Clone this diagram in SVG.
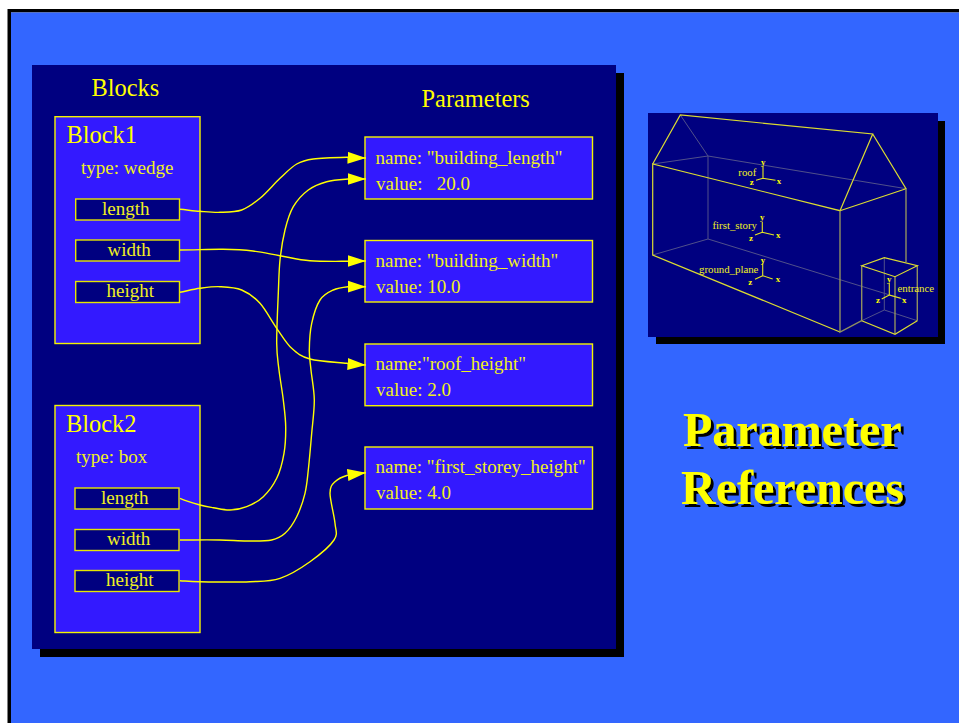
<svg xmlns="http://www.w3.org/2000/svg" width="959" height="723" viewBox="0 0 959 723">
<style>
text{font-family:"Liberation Serif","Times New Roman",serif;fill:#ffff00}
.h{font-size:24.4px}
.t{font-size:19px;fill:#f0f020}
.box{fill:#3319ff;stroke:#f4f400;stroke-width:1.4}
.slot{fill:#000080;stroke:#e6e600;stroke-width:1.4}
.con{fill:none;stroke:#ffff00;stroke-width:1.4;marker-end:url(#arr)}
.title{font-size:48px;font-weight:bold;filter:url(#ts)}
.lab{font-size:10.8px;fill:#f0f020}
.ax{font-size:9px;font-weight:bold;text-anchor:middle}
.e{fill:none;stroke:#dcdc30;stroke-width:1.2}
.g{fill:none;stroke:#8f8f60;stroke-width:1.4}
.d{fill:none;stroke:#50508a;stroke-width:1}
.a{fill:none;stroke:#e6e620;stroke-width:1.1}
</style>
<defs>
<marker id="arr" markerUnits="userSpaceOnUse" markerWidth="20" markerHeight="14" refX="18.500" refY="7" orient="auto">
<path d="M0 1L18.500 7L0 13Z" fill="#ffff00"/>
</marker>
<filter id="ts" x="-5%" y="-10%" width="110%" height="125%">
<feDropShadow dx="3" dy="3" stdDeviation="0.300" flood-color="#000000"/>
</filter>
</defs>
<rect width="959" height="723" fill="#ffffff"/>
<path d="M7.500 723V9H959V12.500H11V723Z" fill="#000"/>
<rect x="11" y="12.500" width="948" height="710.500" fill="#3366ff"/>
<rect x="40" y="73" width="584" height="584" fill="#000"/>
<rect x="32" y="65" width="584" height="584" fill="#000080"/>
<text class="h" x="91.500" y="96">Blocks</text>
<text class="h" x="421.500" y="107">Parameters</text>

<g id="block1">
<rect class="box" x="55" y="116.700" width="145" height="226.800"/>
<text class="h" x="66.500" y="143">Block1</text>
<text class="t" x="81" y="173.500">type: wedge</text>
</g>
<g id="block1-length"><rect class="slot" x="75.700" y="199" width="103.800" height="21"/><text class="t" x="102" y="215">length</text></g>
<g id="block1-width"><rect class="slot" x="75.700" y="240" width="103.800" height="21"/><text class="t" x="107.500" y="256">width</text></g>
<g id="block1-height"><rect class="slot" x="75.700" y="281.500" width="103.800" height="21"/><text class="t" x="106.500" y="297">height</text></g>

<g id="block2">
<rect class="box" x="55" y="405.500" width="145" height="227"/>
<text class="h" x="66" y="432">Block2</text>
<text class="t" x="76" y="462.500">type: box</text>
</g>
<g id="block2-length"><rect class="slot" x="75" y="488" width="104" height="21"/><text class="t" x="101" y="504">length</text></g>
<g id="block2-width"><rect class="slot" x="75" y="529.500" width="104" height="21"/><text class="t" x="107" y="545">width</text></g>
<g id="block2-height"><rect class="slot" x="75" y="570.500" width="104" height="21"/><text class="t" x="106" y="586">height</text></g>

<g id="param-building-length">
<rect class="box" x="365" y="137" width="227.500" height="62"/>
<text class="t" x="375.500" y="163.500">name: "building_length"</text>
<text class="t" x="376" y="189.500" xml:space="preserve">value:   20.0</text>
</g>
<g id="param-building-width">
<rect class="box" x="365" y="240.500" width="227.500" height="61.500"/>
<text class="t" x="375.500" y="266.500">name: "building_width"</text>
<text class="t" x="376" y="292.500">value: 10.0</text>
</g>
<g id="param-roof-height">
<rect class="box" x="365" y="344" width="227.500" height="61.700"/>
<text class="t" x="375.500" y="369.500">name:"roof_height"</text>
<text class="t" x="376" y="396">value: 2.0</text>
</g>
<g id="param-first-storey-height">
<rect class="box" x="365" y="447" width="227.500" height="62"/>
<text class="t" x="375.500" y="473">name: "first_storey_height"</text>
<text class="t" x="376" y="499">value: 4.0</text>
</g>

<g id="connectors">
<path class="con" d="M180 209.300C186.700 209.900 193.300 210.800 200 211.300S213 212.500 220 212.300S235 212.300 241.700 210S253.600 203.600 260 198.300S273.900 184 280 178.300S291.100 167.200 296.700 164S305 160.100 313.300 159S337.900 157.500 346.700 157.300S358 157.900 366 158"/>
<path class="con" d="M180 250C194 250 210.800 249.100 223 249.300S243.500 249.900 253 251S270.500 254.100 280 255.700S298.800 259.800 310 260.700S337.700 261.300 347 261.300S358 261 366 261"/>
<path class="con" d="M180 292.300C186.700 291 193.300 289.200 200 288.300S213 286.400 220 286.700S235 287.200 241.700 290S254.200 296.900 260 303.300S271.400 320.800 276.700 328.300S286.100 343.200 291.700 348.300S300.800 356.500 310 359S337.400 362.300 346.700 363.300S358 364.600 366 365"/>
<path class="con" d="M180 498.300C186 501 194.400 503.400 200 505S208.300 506.900 213.300 507.700S224.400 510.200 230 510S241.100 508.900 246.700 506.700S258.300 501.400 263.300 496.700S273.200 485.500 276.700 478.300S282.500 461.900 284 453.300S285.800 435.600 285.700 426.700S284.400 409.500 283.300 400S280.100 379.500 279 370S276.800 356.100 276.700 343.300S277.700 307.200 278.300 293.300S278.900 270.600 280 260S282.800 238.900 285 230S289.400 213.400 293.300 206.700S302.700 194.200 308.300 190S320.100 183.500 326.700 181.700S341.400 179.500 348 179S358 179 366 179"/>
<path class="con" d="M180 540C193 540 208.900 539.800 220 540S238.100 541 246.700 541S265.300 541.300 271.700 540S280.800 537.200 285 533.300S293.400 523.400 296.700 516.700S303.100 501.100 305 493.300S307.200 480 308.300 470S310.700 445 311.700 433.300S314.400 410.600 314.300 400S311.800 378.300 311 370S309.200 357.800 309.300 350S309.900 331.600 311.700 323.300S316.400 305.600 320 300S328.600 292.200 333.300 290S342.800 287.300 348.300 286.700S358 286.700 366 286.700"/>
<path class="con" d="M180 580.700C186 581 188.300 581.500 200 581.700S236.700 582.300 250 581.700S270 581.600 280 578.300S301 568.100 310 561.700S329.800 546.400 334 540S335.700 531.100 335 523.300S330 500.200 330 493.300S332 484.700 335 481.700S343.100 476.500 348.300 475S358 473.700 366 472.700"/>
</g>

<g id="house-view">
<rect x="656" y="121" width="289" height="223" fill="#000"/>
<rect x="648" y="113" width="290" height="224" fill="#000080"/>
<path class="d" d="M680.300 115L708 156M652.700 164L708 156L906 188.700M708 156V239M652.700 255L708 239L906 300M884.300 257.700V310M861.700 320.700L884.300 310L917.300 320.700"/>
<path class="e" d="M652.700 164L680.300 115L872.700 134L840 210.700L652.700 164V255L840 332M872.700 134L906 188.700L840 210.700"/>
<path class="g" d="M840 210.700V332L861.700 320.700M906 188.700V262M861.700 265.700V320.700M895 276.700V334.300M917.300 265.700V320.700"/>
<path class="e" d="M861.700 265.700L884.300 257.700L917.300 265.700L895 276.700ZM861.700 320.700L895 334.300L917.300 320.700"/>
<path class="a" d="M763 166V178.300L775.500 180.300M763 178.300L756 180.300M762.300 221.700V232.300L774 235M762.300 232.300L755 235M762.700 263V275.700L772.700 279M762.700 275.700L755 279.300M889.300 283V295L900.700 298.300M889.300 295L881.700 299"/>
<text class="lab" x="738.300" y="175.500">roof</text>
<text class="lab" x="712.500" y="228.500">first_story</text>
<text class="lab" x="699" y="272.500">ground_plane</text>
<text class="lab" x="897.500" y="292">entrance</text>
<text class="ax" x="763.300" y="165">y</text><text class="ax" x="779" y="183.700">x</text><text class="ax" x="751.700" y="184.700">z</text>
<text class="ax" x="762.300" y="220">y</text><text class="ax" x="778.300" y="238">x</text><text class="ax" x="751" y="240.700">z</text>
<text class="ax" x="763" y="263">y</text><text class="ax" x="778" y="282.300">x</text><text class="ax" x="750.300" y="284.700">z</text>
<text class="ax" x="889.300" y="282.300">y</text><text class="ax" x="904.300" y="302.700">x</text><text class="ax" x="878" y="303">z</text>
</g>

<g id="title">
<text class="title" x="683" y="446">Parameter</text>
<text class="title" x="681" y="504">References</text>
</g>
</svg>
